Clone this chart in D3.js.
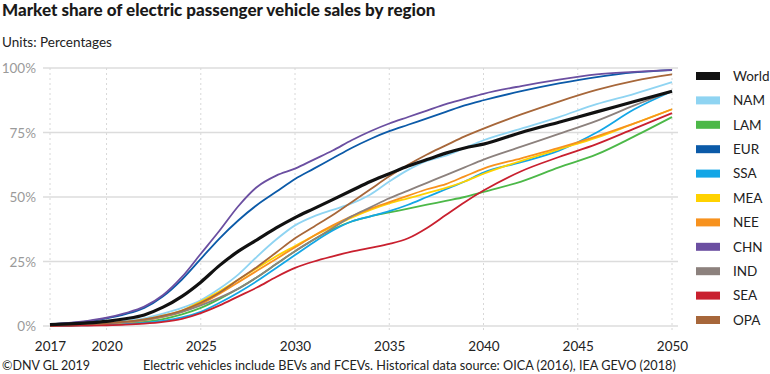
<!DOCTYPE html>
<html>
<head>
<meta charset="utf-8">
<script src="https://cdn.jsdelivr.net/npm/d3@7"></script>
<style>
  body { margin: 0; background: #fff; }
  svg text { font-family: "Lato", "Open Sans", sans-serif; }
</style>
</head>
<body>
<svg id="chart" width="770" height="374"></svg>
<script>
// Data
var years = [2017, 2018, 2019, 2020, 2021, 2022, 2023, 2024, 2025, 2026, 2027, 2028, 2029, 2030,
             2031, 2032, 2033, 2034, 2035, 2036, 2037, 2038, 2039, 2040, 2042, 2044, 2046, 2048, 2050];

var world = [0.5, 0.8, 1.2, 1.8, 2.8, 4.3, 7.3, 11.5, 17, 23.5, 29, 33.5, 38, 42, 45.5, 49, 52.5, 56, 59, 62, 64.5, 67, 69, 70.5, 75, 79, 83, 87, 91];
var nam   = [0.3, 0.5, 0.8, 1.2, 2, 3, 4.8, 7, 10, 14.5, 20, 27, 33.5, 39, 42.5, 45, 47.5, 51, 56, 60.5, 64, 66, 69, 72, 76.5, 81, 86, 90, 94.5];
var lam   = [0.1, 0.2, 0.4, 0.6, 1, 1.6, 2.7, 4.5, 7, 10.5, 14.5, 19, 24, 29, 33.5, 37.5, 40.5, 42.5, 44, 45.5, 47, 48.5, 50, 52, 56, 61.5, 66.5, 73.5, 81];
var eur   = [0.7, 1.1, 1.8, 3, 4.6, 7, 11.5, 18, 26, 34, 41, 47, 52, 57, 61, 65, 69, 72.5, 75.5, 78, 80.5, 83, 85.5, 87.5, 91, 94, 96.5, 98.3, 99.2];
var ssa   = [0.1, 0.2, 0.3, 0.5, 0.8, 1.2, 2, 3.3, 5.5, 9, 13, 17.5, 22.5, 27.5, 32.5, 37, 40.5, 42.5, 44.5, 47, 50, 53, 56, 59.5, 63.5, 68, 75, 84, 91];
var mea   = [0.2, 0.4, 0.7, 1, 1.6, 2.5, 4, 6, 9.5, 13.5, 18, 22.5, 27, 31, 35, 38.5, 42, 45, 47.5, 49.5, 51.5, 53.5, 56, 59, 64, 68.5, 73, 78.5, 84];
var nee   = [0.2, 0.4, 0.6, 0.9, 1.4, 2.2, 3.5, 5.5, 8.5, 12.5, 17, 21.5, 26, 30.5, 35, 39, 42.5, 45.5, 48, 50.5, 53, 55, 58, 61, 65, 69, 73.5, 78.5, 84];
var chn   = [0.7, 1.2, 2, 3.2, 5, 7.5, 12, 19, 28, 37, 46.5, 54, 58.3, 61, 64.5, 68, 72, 75.5, 78.5, 81, 83.5, 86, 88, 90, 93, 95.5, 97.5, 98.5, 99.3];
var ind   = [0.2, 0.4, 0.7, 1, 1.5, 2.3, 3.6, 5.5, 8, 11, 14.5, 19, 24, 29, 33.5, 38, 42.5, 46, 49.5, 52.5, 55.5, 58.5, 61.5, 64.5, 69.5, 74.5, 79.5, 85.5, 91];
var sea   = [0.1, 0.1, 0.2, 0.3, 0.5, 0.9, 1.6, 2.8, 5, 8, 11.5, 15, 19, 22.5, 25, 27, 28.8, 30.3, 31.8, 34, 38, 43, 48, 52.5, 60, 65.5, 70.5, 76.5, 82.5];
var opa   = [0.3, 0.5, 0.8, 1.1, 1.7, 2.6, 4, 6, 9, 13, 18, 23, 28.5, 34, 38.5, 43, 48, 53, 58, 62.5, 66.5, 70, 73.5, 76.5, 82, 87, 91.5, 95, 97.5];

var regionNames  = ["World", "NAM", "LAM", "EUR", "SSA", "MEA", "NEE", "CHN", "IND", "SEA", "OPA"];
var regionValues = [world, nam, lam, eur, ssa, mea, nee, chn, ind, sea, opa];
var regionColors = ["#111111", "#8fd4f2", "#4cb848", "#0b5aa8", "#13a6e6", "#ffd200", "#f7921e", "#6b4fa1", "#8c817d", "#c9202f", "#a7673a"];

var xTicks = [2017, 2020, 2025, 2030, 2035, 2040, 2045, 2050];
var yTicks = [0, 25, 50, 75, 100];

// Layout
var svg = d3.select("#chart");
var x = d3.scaleLinear().domain([2017, 2050]).range([50, 672]);
var y = d3.scaleLinear().domain([0, 100]).range([326, 68]);

// Titles
svg.append("text").attr("x", 2).attr("y", 16)
    .style("font-size", "17px").style("font-weight", 900).attr("fill", "#1a1a1a")
    .text("Market share of electric passenger vehicle sales by region");
svg.append("text").attr("x", 2).attr("y", 47)
    .style("font-size", "13.5px").attr("fill", "#222")
    .text("Units: Percentages");

// Horizontal grid
svg.append("g").selectAll("line").data(yTicks).join("line")
    .attr("x1", 43).attr("x2", 678)
    .attr("y1", d => y(d)).attr("y2", d => y(d))
    .attr("stroke", "#dcdcdc").attr("stroke-width", 1.4);

// Vertical dotted grid
svg.append("g").selectAll("line").data(xTicks).join("line")
    .attr("x1", d => x(d)).attr("x2", d => x(d))
    .attr("y1", 68).attr("y2", 330)
    .attr("stroke", "#d8d8d8").attr("stroke-width", 1).attr("stroke-dasharray", "2,3");

// Axes (labels only)
var yAxis = svg.append("g").attr("transform", "translate(36,0)")
    .call(d3.axisLeft(y).tickValues(yTicks).tickSize(0).tickFormat(d => d + "%"));
yAxis.select(".domain").remove();
yAxis.selectAll("text").attr("fill", "#9a9a9a").style("font-size", "13.5px").attr("x", 0).attr("dy", "0.35em");

var xAxis = svg.append("g").attr("transform", "translate(0,335)")
    .call(d3.axisBottom(x).tickValues(xTicks).tickSize(0).tickFormat(d3.format("d")));
xAxis.select(".domain").remove();
xAxis.selectAll("text").attr("fill", "#222").style("font-size", "13.5px").attr("dy", "0.95em");

// Lines
var line = d3.line()
    .x((d, i) => x(years[i]))
    .y(d => y(d))
    .curve(d3.curveMonotoneX);

var order = [1, 2, 3, 4, 5, 6, 7, 8, 9, 10, 0];
svg.append("g").selectAll("path").data(order).join("path")
    .attr("d", i => line(regionValues[i]))
    .attr("fill", "none")
    .attr("stroke", i => regionColors[i])
    .attr("stroke-width", i => i === 0 ? 3.2 : 1.8)
    .attr("stroke-linejoin", "round");

// Legend
var legend = svg.append("g").selectAll("g").data(regionNames).join("g")
    .attr("transform", (d, i) => "translate(696," + (76 + i * 24.4) + ")");
legend.append("rect").attr("x", 0).attr("y", -4).attr("width", 24).attr("height", 8)
    .attr("fill", (d, i) => regionColors[i]);
legend.append("text").attr("x", 37).attr("y", 0).attr("dy", "0.35em")
    .style("font-size", "13.5px").attr("fill", "#222").text(d => d);

// Footer
svg.append("text").attr("x", 2).attr("y", 370).style("font-size", "12.5px").attr("fill", "#222")
    .text("\u00a9DNV GL 2019");
svg.append("text").attr("x", 143).attr("y", 370).style("font-size", "12.7px").attr("fill", "#222")
    .text("Electric vehicles include BEVs and FCEVs. Historical data source: OICA (2016), IEA GEVO (2018)");
</script>
</body>
</html>
